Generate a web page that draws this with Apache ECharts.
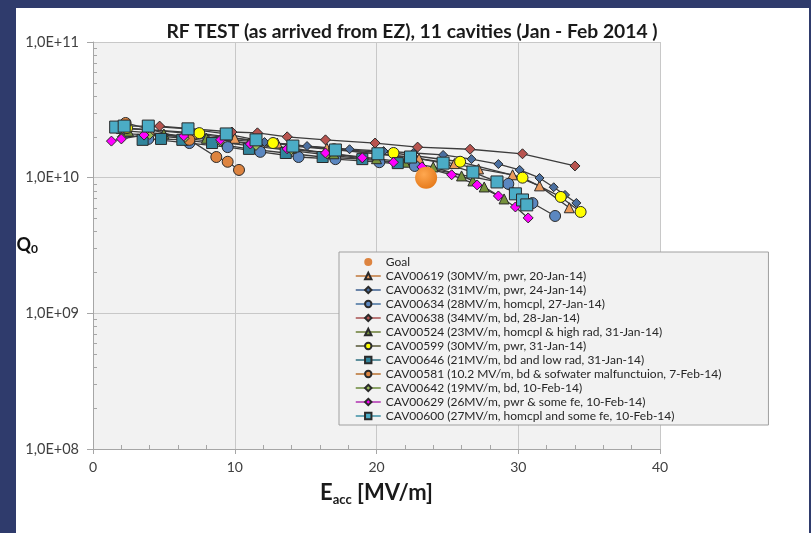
<!DOCTYPE html>
<html><head><meta charset="utf-8">
<script src="https://cdn.jsdelivr.net/npm/echarts@6/dist/echarts.min.js"></script>
<style>
html,body{margin:0;padding:0;background:#2f3b6c;width:811px;height:533px;overflow:hidden}
#panel{position:absolute;left:16px;top:8px;width:793px;height:525px;background:#ffffff}
#chart{position:absolute;left:0;top:0;width:811px;height:533px}
</style></head><body><div id="panel"></div><div id="chart"></div>
<script>
// ---- data (E_acc in MV/m, Q0) ----
const goalE = [23.5];
const goalQ = [1.0e10];

const cav00619E = [2.0, 4.0, 7.0, 10.0, 13.0, 16.5, 20.0, 23.0, 25.5, 27.2, 29.6, 31.5, 33.6];
const cav00619Q = [2.3e10, 2.25e10, 2.1e10, 1.95e10, 1.8e10, 1.65e10, 1.5e10, 1.38e10, 1.27e10, 1.16e10, 1.05e10, 8.7e9, 6.0e9];

const cav00632E = [2.4, 5.0, 8.0, 12.1, 15.1, 18.1, 20.5, 22.6, 24.7, 26.7, 28.6, 30.1, 31.5, 32.5, 33.3, 34.1];
const cav00632Q = [2.1e10, 2.05e10, 1.95e10, 1.83e10, 1.71e10, 1.62e10, 1.57e10, 1.52e10, 1.47e10, 1.37e10, 1.26e10, 1.14e10, 9.95e9, 8.5e9, 7.46e9, 6.51e9];

const cav00634E = [3.9, 6.8, 9.5, 11.8, 14.5, 17.1, 20.2, 22.7, 29.3, 31.0, 32.6];
const cav00634Q = [1.93e10, 1.8e10, 1.68e10, 1.55e10, 1.42e10, 1.37e10, 1.3e10, 1.22e10, 9.0e9, 6.5e9, 5.22e9];

const cav00638E = [4.7, 9.8, 11.6, 13.7, 16.4, 19.9, 22.9, 26.6, 30.3, 34.0];
const cav00638Q = [2.4e10, 2.17e10, 2.14e10, 2.0e10, 1.9e10, 1.8e10, 1.68e10, 1.62e10, 1.5e10, 1.22e10];

const cav00524E = [2.5, 5.0, 8.0, 11.0, 14.0, 17.0, 20.0, 22.0, 24.0, 26.0, 26.8, 27.6, 29.0];
const cav00524Q = [2.2e10, 2.1e10, 1.95e10, 1.8e10, 1.65e10, 1.5e10, 1.38e10, 1.3e10, 1.2e10, 1.03e10, 9.46e9, 8.54e9, 6.97e9];

const cav00599E = [2.4, 7.5, 12.7, 17.0, 21.2, 25.9, 30.3, 33.0, 34.4];
const cav00599Q = [2.32e10, 2.13e10, 1.8e10, 1.62e10, 1.52e10, 1.31e10, 1.0e10, 7.21e9, 5.59e9];

const cav00646E = [3.5, 4.8, 6.3, 8.4, 11.0, 13.6, 16.2, 19.0, 21.5];
const cav00646Q = [1.9e10, 1.93e10, 1.9e10, 1.8e10, 1.63e10, 1.52e10, 1.42e10, 1.37e10, 1.28e10];

const cav00581E = [2.3, 6.8, 8.7, 9.5, 10.3];
const cav00581Q = [2.53e10, 1.9e10, 1.42e10, 1.31e10, 1.14e10];

const cav00642E = [2.0, 4.0, 6.5, 9.0, 11.5, 14.0, 16.5, 19.0];
const cav00642Q = [2.0e10, 2.05e10, 1.95e10, 1.82e10, 1.7e10, 1.58e10, 1.47e10, 1.38e10];

const cav00629E = [1.3, 2.0, 3.6, 6.4, 9.0, 11.1, 13.7, 16.4, 19.0, 21.2, 23.2, 25.3, 27.1, 28.6, 29.8, 30.7];
const cav00629Q = [1.86e10, 1.93e10, 2.06e10, 2.03e10, 1.9e10, 1.77e10, 1.63e10, 1.52e10, 1.4e10, 1.3e10, 1.2e10, 1.05e10, 8.84e9, 7.33e9, 6.08e9, 5.05e9];

const cav00600E = [1.6, 2.2, 3.9, 6.7, 9.4, 11.5, 14.1, 17.1, 20.1, 22.4, 24.7, 26.8, 28.5, 29.8, 30.3, 30.6];
const cav00600Q = [2.36e10, 2.4e10, 2.4e10, 2.29e10, 2.1e10, 1.9e10, 1.71e10, 1.6e10, 1.5e10, 1.42e10, 1.28e10, 1.1e10, 9.3e9, 7.6e9, 6.85e9, 6.3e9];

const xTicks = [0, 10, 20, 30, 40];
const yTickLabels = ['1,0E+08', '1,0E+09', '1,0E+10', '1,0E+11'];

const seriesNames = [
  'CAV00619 (30MV/m, pwr, 20-Jan-14)',
  'CAV00632 (31MV/m, pwr, 24-Jan-14)',
  'CAV00634 (28MV/m, homcpl, 27-Jan-14)',
  'CAV00638 (34MV/m, bd, 28-Jan-14)',
  'CAV00524 (23MV/m, homcpl & high rad, 31-Jan-14)',
  'CAV00599 (30MV/m, pwr, 31-Jan-14)',
  'CAV00646 (21MV/m, bd and low rad, 31-Jan-14)',
  'CAV00581 (10.2 MV/m, bd & sofwater malfunctuion, 7-Feb-14)',
  'CAV00642 (19MV/m, bd, 10-Feb-14)',
  'CAV00629 (26MV/m, pwr & some fe, 10-Feb-14)',
  'CAV00600 (27MV/m, homcpl and some fe, 10-Feb-14)'
];
const seriesE = [cav00619E, cav00632E, cav00634E, cav00638E, cav00524E, cav00599E, cav00646E, cav00581E, cav00642E, cav00629E, cav00600E];
const seriesQ = [cav00619Q, cav00632Q, cav00634Q, cav00638Q, cav00524Q, cav00599Q, cav00646Q, cav00581Q, cav00642Q, cav00629Q, cav00600Q];

// ---- styles ----
const styles = [
  {symbol:'triangle', size:10, fill:'#eb9a5c', legendLine:'#c0773a'},
  {symbol:'diamond',  size:9,  fill:'#4a6fa0', legendLine:'#3d5f8f'},
  {symbol:'circle',   size:11, fill:'#5b87c0', legendLine:'#44709f'},
  {symbol:'diamond',  size:10, fill:'#b8544f', legendLine:'#a85050'},
  {symbol:'triangle', size:10, fill:'#76923c', legendLine:'#6a7d35'},
  {symbol:'circle',   size:11, fill:'#ffff00', legendLine:'#555533'},
  {symbol:'rect',     size:11, fill:'#31859c', legendLine:'#2e6f80'},
  {symbol:'circle',   size:11, fill:'#dd8440', legendLine:'#b8702f'},
  {symbol:'diamond',  size:8,  fill:'#9bbb59', legendLine:'#6b8a3a'},
  {symbol:'diamond',  size:10, fill:'#ff00ff', legendLine:'#b030b0'},
  {symbol:'rect',     size:12, fill:'#4bacc6', legendLine:'#3b8fa5'}
];

const FONT = 'Lato, "Open Sans", sans-serif';
const series = [];
series.push({
  name: 'Goal', type: 'scatter', symbol: 'circle', symbolSize: 22, z: 3,
  data: goalE.map((e, i) => [e, goalQ[i]]),
  itemStyle: {opacity: 1, color: {type:'radial', x:0.4, y:0.35, r:0.7, colorStops:[{offset:0,color:'#ffa850'},{offset:1,color:'#e5791a'}]}},
  emphasis: {disabled: true}
});
seriesNames.forEach((n, k) => {
  const st = styles[k];
  series.push({
    name: n, type: 'line', symbol: st.symbol, symbolSize: st.size, z: 2,
    data: seriesE[k].map((e, i) => [e, seriesQ[k][i]]),
    lineStyle: {color: '#3c3c3c', width: 1.3},
    itemStyle: {color: st.fill, borderColor: '#2a2a2a', borderWidth: 1},
    emphasis: {disabled: true}, animation: false
  });
});

const legendData = [{name:'Goal', icon:'circle', itemStyle:{color:'#dd8440', opacity: 1}}].concat(
  seriesNames.map((n, k) => ({name: n, lineStyle: {color: styles[k].legendLine, width: 1.5}}))
);

const HIDDEN = 'rgba(0,0,0,0)';
const chart = echarts.init(document.getElementById('chart'), null, {renderer: 'canvas'});
chart.setOption({
  animation: false,
  backgroundColor: 'transparent',
  textStyle: {fontFamily: FONT},
  title: {
    text: 'RF TEST (as arrived from EZ), 11 cavities (Jan - Feb 2014 )',
    left: 407, top: 17, textAlign: 'center',
    textStyle: {fontFamily: FONT, fontSize: 19.3, fontWeight: 'bold', color: '#1a1a1a'}
  },
  grid: {left: 93, right: 151, top: 42, bottom: 84, show: true, backgroundColor: '#f2f2f2', borderWidth: 0,
         containLabel: false, outerBoundsMode: 'none'},
  xAxis: [{
    type: 'value', min: xTicks[0], max: xTicks[xTicks.length - 1], interval: 10, position: 'bottom',
    axisLine: {show: true, lineStyle: {color: '#a6a6a6'}},
    axisTick: {show: true, length: 5, lineStyle: {color: '#a6a6a6'}},
    axisLabel: {fontSize: 14, color: '#404040', margin: 11, fontFamily: FONT},
    splitLine: {show: true, lineStyle: {color: '#c8c8c8'}},
    name: 'E{sub|acc} [MV/m]', nameLocation: 'middle', nameGap: 31, nameMoveOverlap: false,
    nameTextStyle: {fontSize: 22, fontWeight: 'bold', color: '#1a1a1a', fontFamily: FONT,
      rich: {sub: {fontSize: 13, fontWeight: 'bold', color: '#1a1a1a', fontFamily: FONT, verticalAlign: 'bottom', padding: [13, 0, 0, 0]}}}
  }, {
    type: 'value', min: 0, max: 40, interval: 10, position: 'bottom',
    axisLine: {show: false}, axisLabel: {show: false}, splitLine: {show: false},
    axisTick: {show: true, inside: true, length: 4, lineStyle: {color: HIDDEN}},
    minorTick: {show: true, splitNumber: 5, length: 4, lineStyle: {color: '#a6a6a6'}}
  }],
  yAxis: [{
    type: 'log', logBase: 10, min: 1e8, max: 1e11, position: 'left',
    axisLine: {show: true, lineStyle: {color: '#a6a6a6'}},
    axisTick: {show: true, length: 6, lineStyle: {color: '#a6a6a6'}},
    axisLabel: {fontSize: 14.5, color: '#404040', margin: 14, fontFamily: FONT,
      formatter: v => yTickLabels[Math.round(Math.log10(v)) - 8]},
    splitLine: {show: true, lineStyle: {color: '#c8c8c8'}},
    name: 'Q{sub|0}', nameLocation: 'middle', nameGap: 55, nameRotate: 0, nameMoveOverlap: false,
    nameTextStyle: {fontSize: 18, fontWeight: 'bold', color: '#111', fontFamily: FONT,
      rich: {sub: {fontSize: 12, fontWeight: 'bold', color: '#111', fontFamily: FONT, verticalAlign: 'bottom', padding: [8, 0, 0, 0]}}}
  }, {
    type: 'log', logBase: 10, min: 1e8, max: 1e11, position: 'left',
    axisLine: {show: false}, axisLabel: {show: false}, splitLine: {show: false},
    axisTick: {show: true, inside: true, length: 4, lineStyle: {color: HIDDEN}},
    minorTick: {show: true, splitNumber: 9, length: 4, lineStyle: {color: '#a6a6a6'}}
  }],
  legend: {
    orient: 'vertical', left: 339, top: 252,
    padding: [4, 47, 3, 16], itemWidth: 25, itemHeight: 8, itemGap: 2,
    backgroundColor: '#f2f2f2', borderColor: '#a0a0a0', borderWidth: 1, borderRadius: 0,
    textStyle: {fontSize: 12, color: '#262626', fontFamily: FONT},
    data: legendData
  },
  series: series
});
</script></body></html>
